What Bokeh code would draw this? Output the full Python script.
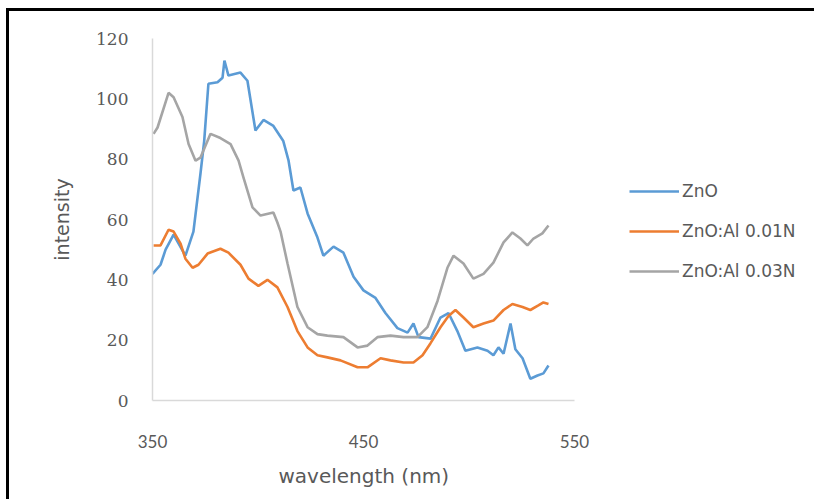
from bokeh.plotting import figure
from bokeh.models import Range1d, FixedTicker, Legend, LegendItem, Title
from bokeh.embed import file_html
from bokeh.resources import INLINE

# ---- data ----
wl_zno = [350, 353.8, 356.2, 360, 365.6, 369.4, 372.7, 374.5, 376.5, 380.8, 383.2, 384.1, 386, 391.7,
          395, 398.8, 402.6, 407.3, 412, 414.5, 416.8, 420.1, 423.5, 428.2, 431, 435.8, 440.5,
          445.3, 450, 455.7, 460.4, 466.1, 470.9, 473.7, 476.1, 481.8, 486.5, 490.3, 494.5,
          498.3, 504, 508.8, 511.6, 514, 516.4, 519.7, 522, 525.4, 529.1, 532.5, 535.3, 537.7]
int_zno = [42, 45, 50, 55, 48, 56, 75, 86, 105, 105.5, 107, 112.7, 107.7, 108.7,
           106, 89.5, 93, 91, 86, 79.5, 69.6, 70.6, 62, 54, 48, 51, 49,
           41, 36.5, 34, 29, 24, 22.5, 25.5, 21, 20.5, 27.5, 29, 23,
           16.5, 17.6, 16.5, 15, 17.6, 15.5, 25.5, 17, 14, 7.2, 8.3, 9, 11.6]

wl_al01 = [350.5, 353.8, 357.6, 360, 363.3, 365.6, 369, 371.8, 376.1, 382.2, 386, 391.7, 395.5,
           400.2, 404.5, 409.2, 414, 418.7, 423.5, 428.2, 432.9, 439.1, 447.2, 451.9, 458.1,
           462.8, 469, 473.7, 478, 481.8, 486.5, 490.3, 493.6, 497.4, 502.1, 506.9, 511.6,
           516.4, 520.6, 525.4, 529.1, 532.9, 535.3, 537.7]
int_al01 = [51.4, 51.4, 56.6, 56, 52, 47, 44, 45, 48.7, 50.3, 49, 45, 40.4,
            38, 40, 37.5, 31, 23, 17.6, 15, 14.3, 13.3, 11, 11, 14,
            13.3, 12.6, 12.6, 15, 19, 24.3, 28, 30, 27.5, 24.3, 25.5, 26.5,
            30, 32, 31, 30, 31.5, 32.5, 32]

wl_al03 = [350.5, 352.4, 357.6, 360, 364.2, 367.1, 370.4, 372.7, 377.5, 382.2, 387, 390.8, 393.1,
           397.4, 401.2, 407.3, 409.2, 410.7, 414, 418.7, 423.5, 428.2, 432.9, 440.5, 447.2,
           451.9, 456.6, 462.8, 469, 475.6, 480.3, 485.1, 489.8, 492.7, 497.4, 502.1, 506.9,
           511.6, 516.4, 520.6, 524.4, 527.7, 530.6, 534.8, 537.7]
int_al03 = [88.4, 90.5, 102, 100.5, 94, 85, 79.5, 80.5, 88.4, 87, 85, 79.5, 74,
            64, 61.3, 62.3, 59, 56, 45.4, 31, 24.3, 22, 21.5, 21, 17.6,
            18.2, 21, 21.5, 21, 21, 24.3, 33, 44, 48, 45.4, 40.4, 42,
            45.7, 52.4, 55.7, 53.7, 51.4, 53.7, 55.4, 58]

series_names = ["ZnO", "ZnO:Al 0.01N", "ZnO:Al 0.03N"]
x_ticks = [350, 450, 550]
y_ticks = [0, 20, 40, 60, 80, 100, 120]
x_axis_min, x_axis_max = 350, 550
x_title = "wavelength (nm)"
y_title = "intensity"

colors = ["#5B9BD5", "#ED7D31", "#A5A5A5"]
text_col = "#595959"

# frame extends right (over the legend area); the visible axis stops at 550
p = figure(width=808, height=491, x_range=Range1d(350, 660), y_range=Range1d(0, 120),
           output_backend="svg", toolbar_location=None,
           min_border_left=143, min_border_right=11, min_border_top=27, min_border_bottom=102)
p.styles = {"margin-left": "6px", "margin-top": "8px",
            "border-left": "3px solid black", "border-top": "3px solid black"}

p.outline_line_color = None
p.xgrid.grid_line_color = None
p.ygrid.grid_line_color = None
p.background_fill_color = "white"
p.border_fill_color = "white"

r1 = p.line(wl_zno, int_zno, line_color=colors[0], line_width=2.6)
r2 = p.line(wl_al01, int_al01, line_color=colors[1], line_width=2.6)
r3 = p.line(wl_al03, int_al03, line_color=colors[2], line_width=2.6)

xa = p.xaxis[0]
xa.ticker = FixedTicker(ticks=x_ticks)
xa.bounds = (x_axis_min, x_axis_max)
xa.axis_line_color = "#D9D9D9"
xa.axis_line_width = 1.5
xa.major_tick_line_color = None
xa.minor_tick_line_color = None
xa.major_label_standoff = 28
xa.major_label_text_font = "Lato"
xa.major_label_text_font_size = "17px"
xa.major_label_text_color = text_col

# x-axis title placed under the visible 350-550 axis
p.add_layout(Title(text=x_title, align="left", offset=126, standoff=22,
                   text_font="DejaVu Sans", text_font_style="normal",
                   text_font_size="20px", text_color=text_col), "below")

ya = p.yaxis[0]
ya.ticker = FixedTicker(ticks=y_ticks)
ya.axis_line_color = "#D9D9D9"
ya.axis_line_width = 1.5
ya.major_tick_line_color = None
ya.minor_tick_line_color = None
ya.major_label_standoff = 18
ya.major_label_text_font = "DejaVu Serif"
ya.major_label_text_font_size = "17px"
ya.major_label_text_color = text_col
ya.axis_label = y_title
ya.axis_label_text_font = "DejaVu Sans"
ya.axis_label_text_font_style = "normal"
ya.axis_label_text_font_size = "19px"
ya.axis_label_text_color = text_col
ya.axis_label_standoff = 20

legend = Legend(items=[LegendItem(label=series_names[0], renderers=[r1]),
                       LegendItem(label=series_names[1], renderers=[r2]),
                       LegendItem(label=series_names[2], renderers=[r3])],
                location=(477, 119), glyph_width=50, glyph_height=20, label_height=20,
                spacing=20, padding=0, margin=0, label_standoff=3,
                border_line_color=None, background_fill_alpha=0,
                label_text_font="DejaVu Sans", label_text_font_size="17px",
                label_text_color=text_col)
p.add_layout(legend, "center")

open("out.html", "w").write(file_html(p, INLINE))
